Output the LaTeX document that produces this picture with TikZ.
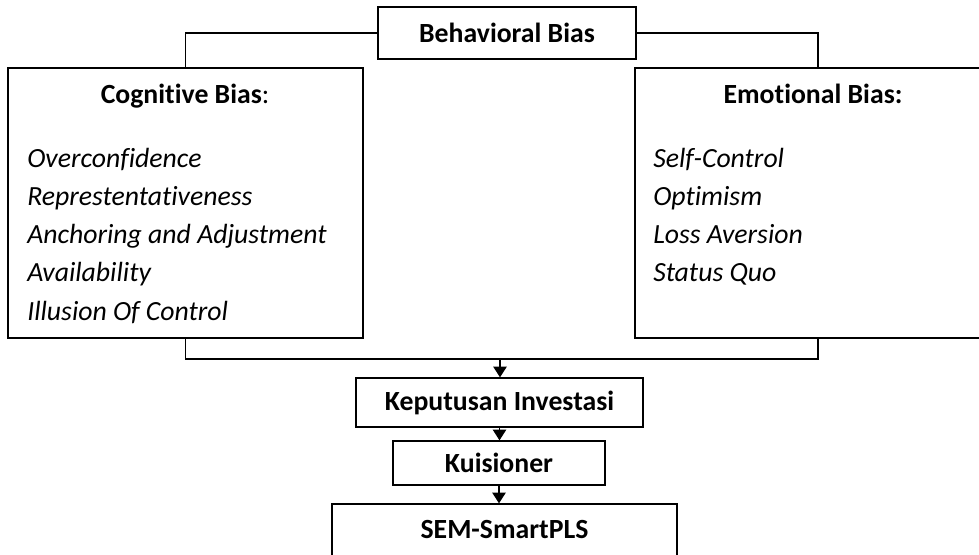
\documentclass[tikz,border=0pt]{standalone}
\usepackage{fontspec}
\setmainfont{Carlito}[Ligatures={NoCommon}]
\usetikzlibrary{positioning, arrows.meta}

\begin{document}
\begin{tikzpicture}[x=0.75pt, y=-0.75pt,
    every node/.style={font=\fontsize{20.8}{25}\selectfont},
    box/.style={draw, line width=1pt, inner sep=0pt, font=\fontsize{20.8}{25}\selectfont\bfseries},
    item/.style={anchor=base west, inner sep=0pt, font=\fontsize{20.8}{25}\selectfont\itshape},
    link/.style={line width=1pt},
    arr/.style={line width=1pt, -{Triangle[length=8pt, width=10pt]}}]
    \useasboundingbox (0,0) rectangle (979,554);
    \node (beh) [box, minimum width=193.5pt, minimum height=39pt] at (507,33) {Behavioral Bias};
    \node (cog) [box, minimum width=266.25pt, minimum height=202.5pt] at (185.5,203) {};
    \node (emo) [box, minimum width=274.5pt, minimum height=202.5pt] at (818,203) {};
    \node (kep) [box, minimum width=215.25pt, minimum height=36.75pt] at (499.5,402.5) {Keputusan Investasi};
    \node (kui) [box, minimum width=159pt, minimum height=33pt] at (499,463) {Kuisioner};
    \node (sem) [box, minimum width=258.75pt, minimum height=39pt] at (504.5,530) {SEM-SmartPLS};
    % isi kotak bias
    \node (cogtitle) [anchor=base] at (185,103) {\textbf{Cognitive Bias}:};
    \foreach \txt [count=\i] in {Overconfidence, Represtentativeness, Anchoring and Adjustment, Availability, Illusion Of Control}
        \node (cogitem\i) [item] at (27,128.7+38.3*\i) {\txt};
    \node (emotitle) [anchor=base, font=\fontsize{20.8}{25}\selectfont\bfseries] at (813,103) {Emotional Bias:};
    \foreach \txt [count=\i] in {Self-Control, Optimism, Loss Aversion, Status Quo}
        \node (emoitem\i) [item] at (653,128.7+38.3*\i) {\txt};
    % garis penghubung
    \coordinate (join) at (500,359);
    \draw [link] (beh.west) -| (cog.north);
    \draw [link] (beh.east) -| (emo.north);
    \draw [link] (cog.south) |- (join) -| (emo.south);
    \draw [arr] (join) -- (join |- kep.north);
    \draw [arr] (kep.south) -- (kep.south |- kui.north);
    \draw [arr] (kui.south) -- (kui.south |- sem.north);
\end{tikzpicture}
\end{document}
